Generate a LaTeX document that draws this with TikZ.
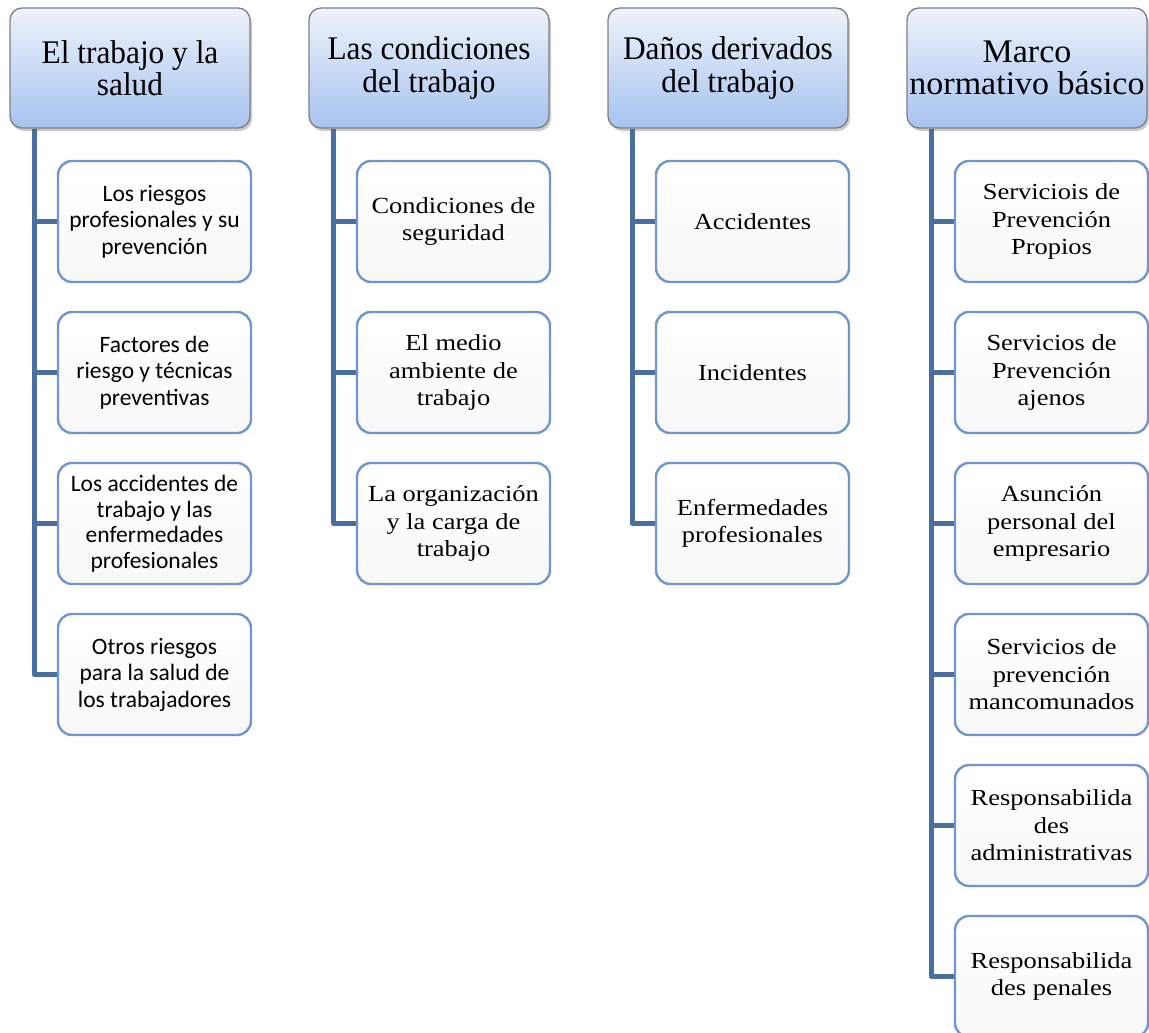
\documentclass[tikz,border=0pt]{standalone}
\usepackage{fontspec}
\setmainfont{Liberation Serif}
\newfontfamily\hdrf{Liberation Serif}[FakeStretch=0.95]
\newfontfamily\hdrfw{Liberation Serif}[FakeStretch=1.03]
\newfontfamily\kidf{Liberation Serif}[FakeStretch=1.15]
\newfontfamily\sansf{Carlito}
\usetikzlibrary{shadows,backgrounds}
\definecolor{connblue}{HTML}{4A6E9F}
\definecolor{kidborder}{HTML}{6F96CE}
\definecolor{hdrtop}{HTML}{EEF3FB}
\definecolor{hdrbot}{HTML}{A7C3EF}
\definecolor{hdrborder}{HTML}{7F7F7F}
\definecolor{kidbot}{HTML}{F8F8F8}
\tikzset{
  x=1pt, y=-1pt,
  hdr/.style={rectangle, rounded corners=12pt, draw=hdrborder, line width=1.3pt,
    top color=hdrtop, bottom color=hdrbot, minimum width=240pt, minimum height=120pt,
    align=center, inner sep=2pt, font=\hdrf\fontsize{33}{32.5}\selectfont,
    drop shadow={shadow xshift=2pt, shadow yshift=-3pt, opacity=0.35, fill=black!60}},
  kid/.style={rectangle, rounded corners=14pt, draw=kidborder, line width=2.4pt,
    top color=white, bottom color=kidbot, minimum width=193pt, minimum height=121pt,
    align=center, inner sep=2pt, font=\kidf\fontsize{23}{27.5}\selectfont},
  kids/.style={kid, font=\sansf\fontsize{23.5}{26.5}\selectfont},
  conn/.style={draw=connblue, line width=5pt, line join=round}
}
\begin{document}
\begin{tikzpicture}
\useasboundingbox (0,0) rectangle (1149,1033);
% headers
\node[hdr] (h1) at (130,68) {El trabajo y la\\salud};
\node[hdr] (h2) at (429,68) {Las condiciones\\del trabajo};
\node[hdr] (h3) at (728,68) {Daños derivados\\del trabajo};
\node[hdr, font=\hdrfw\fontsize{33}{32.5}\selectfont] (h4) at (1027,68) {Marco\\normativo básico};
% column 1
\node[kids] (c11) at (154.5,221.5) {Los riesgos\\profesionales y su\\prevención};
\node[kids] (c12) at (154.5,372.5) {Factores de\\riesgo y técnicas\\preventivas};
\node[kids,font=\sansf\fontsize{23.5}{25.5}\selectfont] (c13) at (154.5,523.5) {Los accidentes de\\trabajo y las\\enfermedades\\profesionales};
\node[kids] (c14) at (154.5,674.5) {Otros riesgos\\para la salud de\\los trabajadores};
% column 2
\node[kid] (c21) at (453.5,221.5) {Condiciones de\\seguridad};
\node[kid] (c22) at (453.5,372.5) {El medio\\ambiente de\\trabajo};
\node[kid] (c23) at (453.5,523.5) {La organización\\y la carga de\\trabajo};
% column 3
\node[kid] (c31) at (752.5,221.5) {Accidentes};
\node[kid] (c32) at (752.5,372.5) {Incidentes};
\node[kid] (c33) at (752.5,523.5) {Enfermedades\\profesionales};
% column 4
\node[kid] (c41) at (1051.5,221.5) {Serviciois de\\Prevención\\Propios};
\node[kid] (c42) at (1051.5,372.5) {Servicios de\\Prevención\\ajenos};
\node[kid] (c43) at (1051.5,523.5) {Asunción\\personal del\\empresario};
\node[kid] (c44) at (1051.5,674.5) {Servicios de\\prevención\\mancomunados};
\node[kid] (c45) at (1051.5,825.5) {Responsabilida\\des\\administrativas};
\node[kid] (c46) at (1051.5,976.5) {Responsabilida\\des penales};
% connectors
\begin{scope}[on background layer]
\coordinate (t1) at ([xshift=25pt]h1.south west);
\coordinate (t2) at ([xshift=25pt]h2.south west);
\coordinate (t3) at ([xshift=25pt]h3.south west);
\coordinate (t4) at ([xshift=25pt]h4.south west);
\draw[conn] (t1) |- (c14.west);
\foreach \k in {1,2,3} \draw[conn] (t1 |- c1\k.west) -- (c1\k.west);
\draw[conn] (t2) |- (c23.west);
\foreach \k in {1,2} \draw[conn] (t2 |- c2\k.west) -- (c2\k.west);
\draw[conn] (t3) |- (c33.west);
\foreach \k in {1,2} \draw[conn] (t3 |- c3\k.west) -- (c3\k.west);
\draw[conn] (t4) |- (c46.west);
\foreach \k in {1,2,3,4,5} \draw[conn] (t4 |- c4\k.west) -- (c4\k.west);
\end{scope}
\end{tikzpicture}
\end{document}
